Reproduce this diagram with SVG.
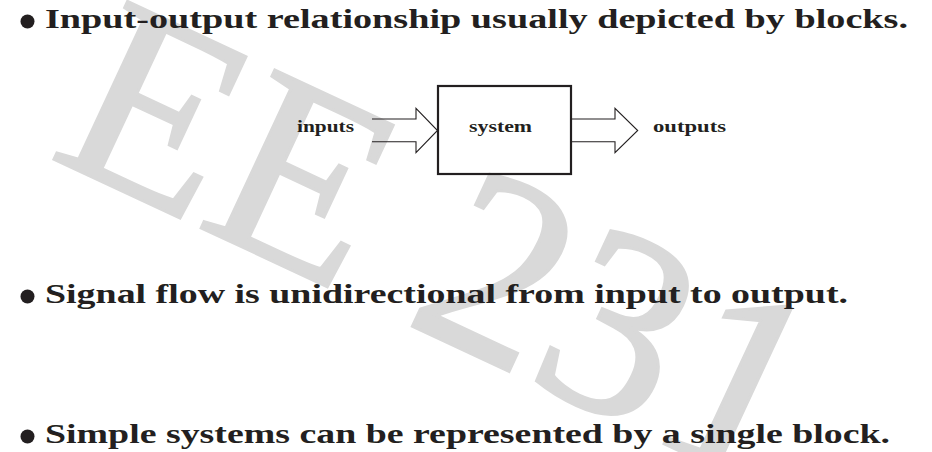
<svg xmlns="http://www.w3.org/2000/svg" width="932" height="452" viewBox="0 0 932 452">
<style>
.wm{font-family:"Liberation Serif","Times New Roman",serif;font-size:266px;fill:#d9d9d9;stroke:#d9d9d9;stroke-width:3}
.main{font-family:"Liberation Serif","Times New Roman",serif;font-weight:bold;font-size:27px;fill:#231f20}
.lbl{font-family:"Liberation Serif","Times New Roman",serif;font-weight:bold;font-size:17px;fill:#231f20}
.bul{fill:#231f20}
.arrow{fill:none;stroke:#231f20;stroke-width:1.1;stroke-linejoin:miter}
.box{fill:none;stroke:#231f20;stroke-width:2.2}
</style>
<rect width="932" height="452" fill="#ffffff"/>
<g id="watermark">
<text class="wm" x="0" y="0" transform="translate(47,156) rotate(25)">EE 231</text>
</g>
<g id="bullets">
<circle class="bul" cx="27.5" cy="21.5" r="7"/>
<text class="main" x="45" y="28" textLength="863" lengthAdjust="spacingAndGlyphs">Input-output relationship usually depicted by blocks.</text>
<circle class="bul" cx="27.5" cy="296.5" r="7"/>
<text class="main" x="45" y="303" textLength="803" lengthAdjust="spacingAndGlyphs">Signal flow is unidirectional from input to output.</text>
<circle class="bul" cx="27.5" cy="436.5" r="7"/>
<text class="main" x="45" y="443" textLength="845" lengthAdjust="spacingAndGlyphs">Simple systems can be represented by a single block.</text>
</g>
<g id="inputs">
<text class="lbl" x="297" y="132" textLength="57" lengthAdjust="spacingAndGlyphs">inputs</text>
</g>
<g id="system">
<rect class="box" x="438" y="86" width="133" height="88"/>
<text class="lbl" x="469" y="132" textLength="63" lengthAdjust="spacingAndGlyphs">system</text>
</g>
<g id="outputs">
<text class="lbl" x="653" y="132" textLength="73" lengthAdjust="spacingAndGlyphs">outputs</text>
</g>
<g id="connectors">
<path class="arrow" d="M372,119 H416 V108.3 L437.5,130.5 L416,152.7 V141.7 H372"/>
<path class="arrow" d="M572,119 H615 V108.3 L637.7,130.5 L615,152.7 V141.7 H572"/>
</g>
</svg>
